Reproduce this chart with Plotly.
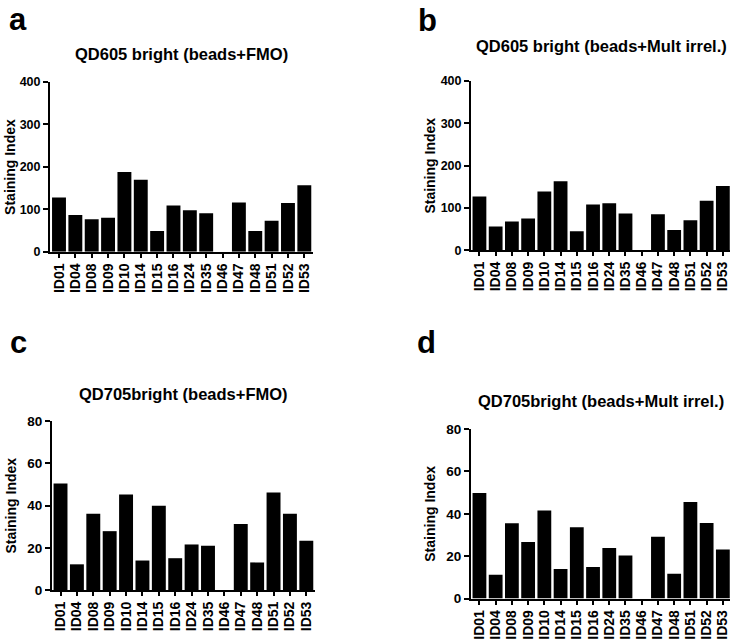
import plotly.graph_objects as go

categories = ["ID01", "ID04", "ID08", "ID09", "ID10", "ID14", "ID15", "ID16",
              "ID24", "ID35", "ID46", "ID47", "ID48", "ID51", "ID52", "ID53"]

qd605_fmo = [128, 87, 77, 80, 188, 170, 49, 109, 98, 91, 0, 116, 49, 73, 115, 157]
qd605_mult = [127, 56, 68, 75, 139, 163, 45, 108, 111, 87, 0, 85, 48, 71, 117, 152]
qd705_fmo = [50.5, 12.2, 36.1, 27.9, 45.3, 14.0, 39.9, 15.1, 21.6, 21.0, 0, 31.3, 13.1, 46.2, 36.1, 23.4]
qd705_mult = [49.8, 11.2, 35.5, 26.7, 41.5, 14.0, 33.6, 14.9, 23.8, 20.3, 0, 29.2, 11.7, 45.5, 35.6, 23.2]

titles = ["QD605 bright (beads+FMO)", "QD605 bright (beads+Mult irrel.)",
          "QD705bright (beads+FMO)", "QD705bright (beads+Mult irrel.)"]
letters = ["a", "b", "c", "d"]
ytitle = "Staining Index"
top_ticks = [0, 100, 200, 300, 400]
bot_ticks = [0, 20, 40, 60, 80]

W, H = 730, 644
FONT = "Liberation Sans, Arial, sans-serif"

# panel geometry in pixels: (x_left, x_right, y_top, y_bottom)
panels = [
    (50, 312.5, 76.7, 250.7),
    (471, 730, 75.7, 249.0),
    (52, 314.5, 424.0, 597.0),
    (471, 730, 432.0, 605.7),
]
xranges = [[-0.55, 15.5], [-0.52, 15.44], [-0.52, 15.5], [-0.52, 15.44]]
data = [qd605_fmo, qd605_mult, qd705_fmo, qd705_mult]
yranges = [[0, 400], [0, 400], [0, 80], [0, 80]]
ticksets = [top_ticks, top_ticks, bot_ticks, bot_ticks]
ytick_sizes = [12.5, 12.5, 13.5, 13.5]
title_pos = [(181.5, 48), (601, 40), (183, 396), (601, 403)]
letter_pos = [(18, 13), (427, 14), (18, 344), (426, 344)]
ytitle_pos = [(10, 163.7), (430, 162.4), (11, 510.5), (430, 518.8)]

fig = go.Figure()
annotations = []
layout = {}
for i in range(4):
    xl, xr, yt, yb = panels[i]
    xa = "x" if i == 0 else f"x{i+1}"
    ya = "y" if i == 0 else f"y{i+1}"
    fig.add_trace(go.Bar(x=categories, y=data[i], xaxis=xa, yaxis=ya,
                         marker=dict(color="black", line=dict(width=0)),
                         showlegend=False))
    xkey = "xaxis" if i == 0 else f"xaxis{i+1}"
    ykey = "yaxis" if i == 0 else f"yaxis{i+1}"
    layout[xkey] = dict(
        domain=[xl / W, xr / W], anchor=ya, range=xranges[i],
        type="category", tickmode="array", tickvals=categories, ticktext=categories,
        showline=True, linecolor="black", linewidth=2,
        ticks="outside", ticklen=4, tickwidth=1.5, tickcolor="black",
        tickangle=-90, showgrid=False, zeroline=False,
        tickfont=dict(family=FONT, size=14, color="black", weight="bold"),
        fixedrange=True,
    )
    layout[ykey] = dict(
        domain=[1 - yb / H, 1 - yt / H], anchor=xa, range=yranges[i],
        tickvals=ticksets[i], showline=True, linecolor="black", linewidth=2,
        ticks="outside", ticklen=5, tickwidth=1.5, tickcolor="black",
        showgrid=False, zeroline=False,
        tickfont=dict(family=FONT, size=ytick_sizes[i], color="black", weight="bold"),
        fixedrange=True,
    )
    tx, ty = title_pos[i]
    annotations.append(dict(text=titles[i], x=tx / W, y=1 - ty / H, xref="paper", yref="paper",
                            xanchor="center", yanchor="middle", showarrow=False,
                            font=dict(family=FONT, size=16.5, color="black", weight="bold")))
    lx, ly = letter_pos[i]
    annotations.append(dict(text=letters[i], x=lx / W, y=1 - ly / H, xref="paper", yref="paper",
                            xanchor="center", yanchor="middle", showarrow=False,
                            font=dict(family=FONT, size=31, color="black", weight="bold")))
    ax_, ay_ = ytitle_pos[i]
    annotations.append(dict(text=ytitle, x=ax_ / W, y=1 - ay_ / H, xref="paper", yref="paper",
                            xanchor="center", yanchor="middle", showarrow=False, textangle=-90,
                            font=dict(family=FONT, size=14, color="black", weight="bold")))

fig.update_layout(
    width=W, height=H, margin=dict(l=0, r=0, t=0, b=0),
    paper_bgcolor="white", plot_bgcolor="white",
    bargap=0.15, annotations=annotations, **layout,
)
fig.write_html("out.html")
